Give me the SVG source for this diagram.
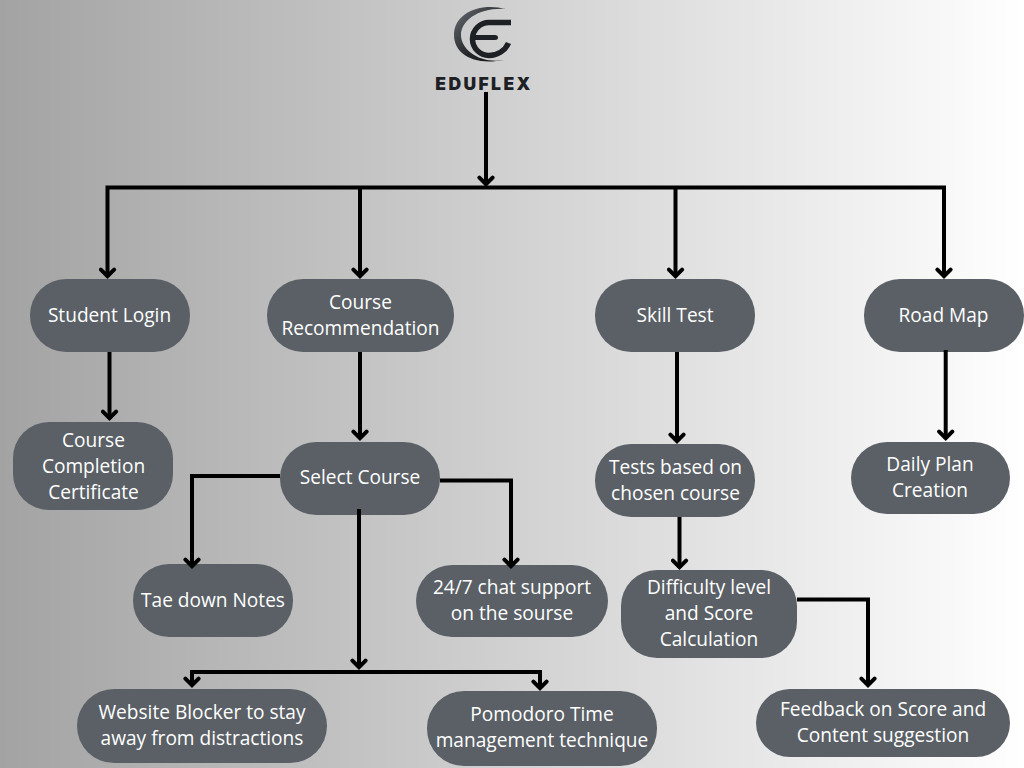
<svg xmlns="http://www.w3.org/2000/svg" width="1024" height="768" viewBox="0 0 1024 768">
<defs>
<linearGradient id="bg" x1="0" y1="0" x2="1" y2="0"><stop offset="0" stop-color="#a3a3a3"/><stop offset="1" stop-color="#ffffff"/></linearGradient>
<linearGradient id="lg" x1="0" y1="0" x2="1" y2="1"><stop offset="0" stop-color="#6b7076"/><stop offset="0.55" stop-color="#25282c"/><stop offset="1" stop-color="#111"/></linearGradient>
<marker id="a" markerUnits="userSpaceOnUse" markerWidth="18" markerHeight="18" refX="12.830" refY="9" orient="auto" viewBox="0 0 18 18"><path d="M5.400 2.400 L12 9 L5.400 15.600" fill="none" stroke="#000" stroke-width="4" stroke-linecap="round"/></marker>
</defs>
<style>
.n{fill:#5a6066}
.t{font-family:"Open Sans","Noto Sans",sans-serif;font-size:19.100px;fill:#fff;text-anchor:middle}
.c{fill:none;stroke:#000;stroke-width:4}
</style>
<rect width="1024" height="768" fill="url(#bg)"/>
<g id="logo">
<path d="M506 9 C480 2 454 13 454 35 C454 53 472 66 504 60 C480 64 461 50 461 35 C461 20 480 7 506 9 Z" fill="url(#lg)"/>
<path d="M511 22.500 H489 A16.500 16.500 0 0 0 489 55.500 C497 55.500 505 51 508.500 43" fill="none" stroke="#1d2024" stroke-width="5.500"/>
<path d="M475 35 H495 Q498 35 498 37.500 Q498 40 495 40 H475 Z" fill="#1d2024"/>
<text x="484" y="90" text-anchor="middle" font-family="Inter,'Liberation Sans',sans-serif" font-weight="900" font-size="17.500" letter-spacing="2.400" fill="#1d2024">EDUFLEX</text>
</g>
<g id="student-login"><rect class="n" x="30" y="279" width="160" height="73" rx="36"/><text class="t" x="109.500" y="322">Student Login</text></g>
<g id="course-recommendation"><rect class="n" x="267" y="279" width="187" height="73" rx="36"/><text class="t" x="360.500" y="309">Course</text><text class="t" x="360.500" y="335">Recommendation</text></g>
<g id="skill-test"><rect class="n" x="595" y="279" width="160" height="73" rx="36"/><text class="t" x="675" y="322">Skill Test</text></g>
<g id="road-map"><rect class="n" x="864" y="279" width="160" height="73" rx="36"/><text class="t" x="943.500" y="322">Road Map</text></g>
<g id="course-completion"><rect class="n" x="13" y="422" width="160" height="88" rx="36"/><text class="t" x="93.500" y="447">Course</text><text class="t" x="93.500" y="473">Completion</text><text class="t" x="93.500" y="499">Certificate</text></g>
<g id="select-course"><rect class="n" x="280" y="442" width="160" height="73" rx="36"/><text class="t" x="360" y="484">Select Course</text></g>
<g id="tests"><rect class="n" x="595" y="444" width="160" height="73" rx="36"/><text class="t" x="675.500" y="474">Tests based on</text><text class="t" x="675.500" y="500">chosen course</text></g>
<g id="daily-plan"><rect class="n" x="851" y="442" width="159" height="72" rx="36"/><text class="t" x="930" y="471">Daily Plan</text><text class="t" x="930" y="497">Creation</text></g>
<g id="notes"><rect class="n" x="133" y="564" width="160" height="73" rx="36"/><text class="t" x="213" y="607">Tae down Notes</text></g>
<g id="chat"><rect class="n" x="416" y="565" width="192" height="72" rx="36"/><text class="t" x="512" y="594">24/7 chat support</text><text class="t" x="512" y="620">on the sourse</text></g>
<g id="difficulty"><rect class="n" x="621" y="570" width="176" height="88" rx="36"/><text class="t" x="709" y="594">Difficulty level</text><text class="t" x="709" y="620">and Score</text><text class="t" x="709" y="646">Calculation</text></g>
<g id="website-blocker"><rect class="n" x="77" y="689" width="250" height="74" rx="37"/><text class="t" x="202" y="719">Website Blocker to stay</text><text class="t" x="202" y="745">away from distractions</text></g>
<g id="pomodoro"><rect class="n" x="427" y="691" width="230" height="75" rx="37"/><text class="t" x="542" y="721">Pomodoro Time</text><text class="t" x="542" y="747">management technique</text></g>
<g id="feedback"><rect class="n" x="756" y="689" width="254" height="68" rx="34"/><text class="t" x="883" y="716">Feedback on Score and</text><text class="t" x="883" y="742">Content suggestion</text></g>
<g id="connectors">
<path class="c" d="M486 92V185" marker-end="url(#a)"/>
<path class="c" d="M946 187.500H107.500V277" marker-end="url(#a)"/>
<path class="c" d="M360 188V277" marker-end="url(#a)"/>
<path class="c" d="M675.500 188V277" marker-end="url(#a)"/>
<path class="c" d="M944 188V277" marker-end="url(#a)"/>
<path class="c" d="M109.500 352V419" marker-end="url(#a)"/>
<path class="c" d="M360 352V439" marker-end="url(#a)"/>
<path class="c" d="M677 352V442" marker-end="url(#a)"/>
<path class="c" d="M945.700 350V439" marker-end="url(#a)"/>
<path class="c" d="M280 476H192V567" marker-end="url(#a)"/>
<path class="c" d="M440 480.500H511V567" marker-end="url(#a)"/>
<path class="c" d="M359 509V668" marker-end="url(#a)"/>
<path class="c" d="M360 672H192V686" marker-end="url(#a)"/>
<path class="c" d="M358 672H540V689" marker-end="url(#a)"/>
<path class="c" d="M679.500 517V568" marker-end="url(#a)"/>
<path class="c" d="M797 599.500H868V686" marker-end="url(#a)"/>
</g>
</svg>
